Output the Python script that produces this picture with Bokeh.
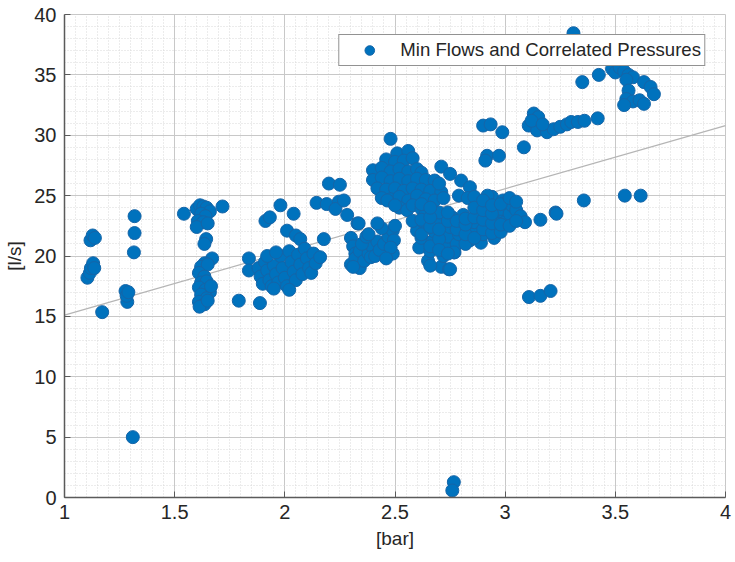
from bokeh.plotting import figure
from bokeh.models import (ColumnDataSource, SingleIntervalTicker, NumeralTickFormatter,
                          Range1d, Legend, LegendItem)
from bokeh.embed import file_html
from bokeh.resources import INLINE

pressure_bar = [
    # left group
    1.104, 1.115, 1.12, 1.13, 1.135, 1.118, 1.128, 1.138, 1.171, 1.277, 1.285, 1.282, 1.29,
    1.318, 1.318, 1.315, 1.31,
    # ~1.6 column
    1.542, 1.60, 1.615, 1.63, 1.645, 1.66, 1.62, 1.64, 1.605, 1.63, 1.60, 1.65, 1.717, 1.643,
    1.635, 1.67, 1.636, 1.62, 1.65, 1.61, 1.635, 1.62, 1.645, 1.61, 1.64, 1.66, 1.62, 1.645,
    1.61, 1.635, 1.613, 1.65, 1.665,
    # singles around 1.8-2.2
    1.791, 1.887, 1.837, 1.837, 1.912, 1.932, 1.98, 2.04, 2.01, 2.05, 2.07, 2.177,
    # band 1.88-2.16
    1.88, 1.89, 1.90, 1.91, 1.92, 1.93, 1.94, 1.95, 1.96, 1.97, 1.98, 1.99, 2.00, 2.01, 2.02,
    2.03, 2.04, 2.05, 2.06, 2.07, 2.08, 2.09, 2.10, 2.11, 2.12, 2.13, 2.14, 2.16, 1.95, 2.02,
    1.92, 1.96,
    # 2.14-2.34 upper
    2.144, 2.19, 2.245, 2.20, 2.25, 2.23, 2.283, 2.33, 2.268, 2.30, 2.31, 2.32, 2.33, 2.34,
    # blob 2.28-2.51
    2.30, 2.32, 2.34, 2.36, 2.38, 2.40, 2.42, 2.35, 2.37, 2.39, 2.41, 2.43, 2.45, 2.47, 2.49,
    2.44, 2.42, 2.335, 2.495, 2.49, 2.48, 2.46, 2.31, 2.38, 2.50,
    # blob 2.40-2.65 high
    2.48, 2.51, 2.56, 2.46, 2.50, 2.54, 2.58, 2.40, 2.44, 2.48, 2.52, 2.56, 2.60, 2.62, 2.40,
    2.44, 2.48, 2.52, 2.56, 2.60, 2.64, 2.68, 2.42, 2.46, 2.50, 2.54, 2.58, 2.62, 2.66, 2.71,
    2.44, 2.48, 2.52, 2.56, 2.60, 2.465, 2.52, 2.555, 2.50, 2.60, 2.64, 2.58, 2.62,
    # chain 2.7-2.84
    2.71, 2.75, 2.80, 2.84, 2.79, 2.83, 2.70,
    # blob 2.6-3.1
    2.60, 2.61, 2.62, 2.63, 2.64, 2.65, 2.66, 2.67, 2.68, 2.69, 2.70, 2.71, 2.72, 2.73, 2.74,
    2.745, 2.75, 2.76, 2.77, 2.78, 2.79, 2.80, 2.81, 2.84, 2.85, 2.86, 2.87, 2.88, 2.89,
    2.90, 2.91, 2.92, 2.93, 2.94, 2.95, 2.96, 2.97, 2.98, 2.99, 3.00, 3.02, 3.03, 3.05, 3.07,
    2.964, 3.09, 3.16, 3.229, 2.767, 2.75, 2.66, 2.58, 2.62, 2.68, 2.72, 2.86, 2.92,
    2.62, 2.62, 2.66, 2.66, 2.66, 2.66, 2.70, 2.70, 2.70, 2.74, 2.74, 2.74, 2.78, 2.78,
    2.82, 2.82, 2.82, 2.82, 2.86, 2.86, 2.86, 2.90, 2.90, 2.90, 2.90, 2.94, 2.94, 2.94, 2.94,
    2.98, 2.98, 2.98, 3.02, 3.02, 3.05, 3.05,
    # upper right chain
    2.90, 2.934, 2.987, 3.085, 2.918, 2.972, 2.91, 3.13, 3.15, 3.107, 3.145, 3.19, 3.22, 3.25,
    3.28, 3.30, 3.33, 3.36, 3.42, 3.12, 3.17,
    # top right
    3.31, 3.35, 3.425, 3.485, 3.50, 3.52, 3.54, 3.56, 3.58, 3.55, 3.63, 3.66, 3.675, 3.56,
    3.55, 3.58, 3.61, 3.63, 3.54,
    # isolated
    3.357, 3.543, 3.615, 3.108, 3.16, 3.206, 2.767, 2.76, 3.233,
]

flow_ls = [
    18.2, 18.6, 19.0, 19.4, 19.0, 21.3, 21.7, 21.5, 15.35, 17.1, 16.2, 16.7, 17.0,
    23.3, 21.9, 20.3, 5.0,
    23.5, 23.9, 24.2, 24.1, 24.0, 23.7, 23.5, 23.3, 22.9, 22.8, 22.4, 22.7, 24.1, 21.4,
    21.0, 19.8, 19.4, 19.1, 19.3, 18.6, 18.3, 17.8, 17.9, 17.4, 17.2, 17.0, 16.8, 16.5,
    16.2, 16.0, 15.8, 16.3, 17.5,
    16.3, 16.1, 19.8, 18.8, 22.9, 23.2, 24.2, 23.5, 22.1, 21.7, 21.4, 21.4,
    19.0, 18.3, 17.7, 19.5, 18.8, 18.0, 17.5, 19.2, 18.5, 17.8, 20.0, 19.0, 18.2, 17.5, 20.4,
    19.5, 18.7, 18.0, 20.1, 19.3, 18.5, 20.6, 19.8, 19.0, 18.6, 20.2, 19.4, 19.9, 17.3, 17.2,
    20.0, 20.3,
    24.4, 24.3, 24.5, 26.0, 25.9, 23.9, 23.4, 22.7, 24.6, 21.5, 20.8, 20.2, 19.6, 19.0,
    19.3, 19.8, 20.4, 19.6, 20.2, 20.7, 21.2, 21.0, 21.6, 19.9, 20.0, 20.5, 21.0, 21.6, 22.1,
    22.3, 22.7, 22.7, 21.3, 20.2, 20.7, 19.8, 19.1, 21.8, 22.5,
    29.7, 28.5, 28.7, 28.0, 27.8, 27.9, 28.1, 27.1, 27.3, 27.0, 27.2, 27.0, 27.2, 26.9, 26.3,
    26.5, 26.2, 26.4, 26.2, 26.4, 26.3, 26.25, 25.6, 25.5, 25.6, 25.4, 25.6, 25.5, 25.4, 25.3,
    24.8, 24.7, 24.9, 24.6, 24.8, 24.6, 24.0, 23.8, 24.2, 25.0, 24.7, 24.2, 23.9,
    27.4, 26.8, 26.25, 25.7, 25.0, 24.8, 26.0,
    22.1, 20.7, 21.5, 22.8, 23.5, 19.6, 20.4, 21.2, 22.0, 22.8, 23.6, 19.1, 20.0, 20.8, 21.6,
    18.9, 22.4, 23.2, 20.3, 21.0, 21.8, 22.6, 23.4, 21.3, 22.0, 22.8, 23.6, 24.4, 21.1,
    21.8, 22.6, 23.4, 24.2, 24.9, 21.5, 22.3, 23.1, 23.9, 24.6, 22.8, 23.5, 24.2, 23.8, 23.3,
    22.7, 22.8, 23.0, 23.6, 20.3, 18.9, 19.2, 22.9, 24.3, 24.6, 24.8, 24.9, 25.0,
    23.0, 21.8, 22.4, 23.2, 24.0, 20.8, 21.4, 22.2, 20.5, 22.9, 23.6, 20.2, 22.2, 22.9,
    21.0, 21.8, 22.6, 23.1, 21.5, 23.2, 24.0, 22.2, 23.0, 23.8, 24.6, 21.9, 22.7, 23.5, 24.2,
    22.0, 22.6, 24.3, 22.5, 24.8, 24.5, 22.9,
    30.8, 30.9, 30.25, 29.0, 28.3, 28.3, 27.9, 31.8, 31.5, 30.8, 30.4, 30.25, 30.5, 30.7,
    30.9, 31.1, 31.1, 31.2, 31.4, 31.2, 30.9,
    38.45, 34.4, 35.0, 35.5, 35.2, 35.6, 35.3, 35.0, 34.8, 34.6, 34.4, 34.0, 33.4, 33.7,
    33.0, 32.8, 32.9, 32.6, 32.5,
    24.6, 25.0, 25.0, 16.6, 16.7, 17.1, 1.27, 0.58, 23.5,
]

fit_x = [1.0, 4.0]
fit_y = [15.1, 30.8]

series_label = "Min Flows and Correlated Pressures"
x_label = "[bar]"
y_label = "[l/s]"

FONT = "Liberation Sans"
BLUE = "#0072BD"

p = figure(width=735, height=562, output_backend="svg", toolbar_location=None,
           x_range=Range1d(1, 4), y_range=Range1d(0, 40),
           min_border_left=64, min_border_right=10, min_border_top=14, min_border_bottom=65)
p.background_fill_color = "white"
p.border_fill_color = "white"
p.outline_line_color = "#c8c8c8"

p.line(fit_x, fit_y, line_color="#b5b5b5", line_width=1.2)

src = ColumnDataSource(dict(x=pressure_bar, y=flow_ls))
r = p.scatter("x", "y", source=src, size=13, fill_color=BLUE, line_color="#1565a8",
              line_width=1)

p.xaxis.ticker = SingleIntervalTicker(interval=0.5, num_minor_ticks=10)
p.yaxis.ticker = SingleIntervalTicker(interval=5, num_minor_ticks=5)
p.xaxis.formatter = NumeralTickFormatter(format="0.[0]")
p.yaxis.formatter = NumeralTickFormatter(format="0")

for ax in (p.xaxis[0], p.yaxis[0]):
    ax.axis_line_color = "#5a5a5a"
    ax.axis_line_width = 1.5
    ax.major_tick_line_color = "#5a5a5a"
    ax.major_tick_in = 6
    ax.major_tick_out = 0
    ax.minor_tick_in = 0
    ax.minor_tick_out = 0
    ax.major_label_text_font = FONT
    ax.major_label_text_font_size = "20px"
    ax.major_label_text_color = "#262626"
    ax.axis_label_text_font = FONT
    ax.axis_label_text_font_size = "19px"
    ax.axis_label_text_font_style = "normal"
    ax.axis_label_text_color = "#262626"

p.xaxis.axis_label = x_label
p.yaxis.axis_label = y_label
p.xaxis.major_label_standoff = 7
p.yaxis.major_label_standoff = 8
p.xaxis.axis_label_standoff = 6
p.yaxis.axis_label_standoff = 6

for g in (p.xgrid[0], p.ygrid[0]):
    g.grid_line_color = "#c8c8c8"
    g.grid_line_width = 1
    g.minor_grid_line_color = "#d8d8d8"
    g.minor_grid_line_dash = "1 2"
    g.minor_grid_line_width = 1

legend = Legend(items=[LegendItem(label=series_label, renderers=[r])],
                location="top_right", margin=20, padding=3, spacing=0,
                glyph_width=54, glyph_height=24, label_height=24, label_standoff=4,
                label_text_font=FONT, label_text_font_size="18.6px",
                label_text_color="#262626",
                border_line_color="#262626", border_line_width=1,
                background_fill_color="white", background_fill_alpha=1)
p.add_layout(legend)

open("out.html", "w").write(file_html(p, INLINE))
